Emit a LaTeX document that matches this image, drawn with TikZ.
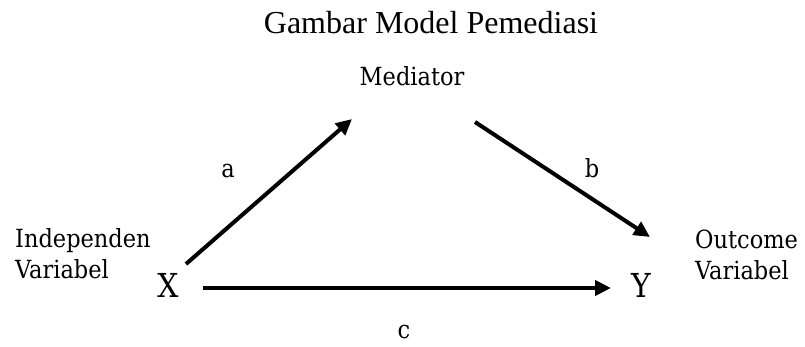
\documentclass[tikz,border=0pt]{standalone}
\usepackage{fontspec}
\setmainfont{Liberation Serif}
\newfontfamily\labelfont{DejaVu Serif Condensed}
\usetikzlibrary{arrows.meta,positioning}

\begin{document}
\begin{tikzpicture}[x=1pt,y=-1pt,
    lbl/.style={font=\labelfont\fontsize{25}{31}\selectfont, inner sep=0pt},
    var/.style={font=\labelfont\fontsize{33}{33}\selectfont, inner sep=0pt},
    path arrow/.style={-{Triangle[length=16pt,width=15pt]}, line width=4pt}]
  \useasboundingbox (0,0) rectangle (805,347);
  \node[font=\fontsize{32}{36}\selectfont, anchor=base] (title) at (431,34) {Gambar Model Pemediasi};
  % variables
  \node[lbl, anchor=base] (med) at (412,86) {Mediator};
  \node[var, anchor=base] (x) at (168,297) {X};
  \node[var, anchor=base] (y) at (641,297) {Y};
  \node[lbl, anchor=base west, align=left] (indep) at (15,278) {Independen\\Variabel};
  \node[lbl, anchor=base west, align=left] (outc) at (695,279) {Outcome\\Variabel};
  % arrow ends
  \coordinate (a0) at (186,264);
  \coordinate (a1) at (352,119);
  \coordinate (b0) at (475,122);
  \coordinate (b1) at (650,237);
  \coordinate (c0) at (203,288);
  \coordinate (c1) at (611,288);
  \draw[path arrow] (a0) -- (a1);
  \draw[path arrow] (b0) -- (b1);
  \draw[path arrow] (c0) -- (c1);
  % path labels
  \node[lbl, anchor=base] (la) at (228,178) {a};
  \node[lbl, anchor=base] (lb) at (592,178) {b};
  \node[lbl, anchor=base, text depth=0pt] (lc) at (404,338) {c};
\end{tikzpicture}
\end{document}
